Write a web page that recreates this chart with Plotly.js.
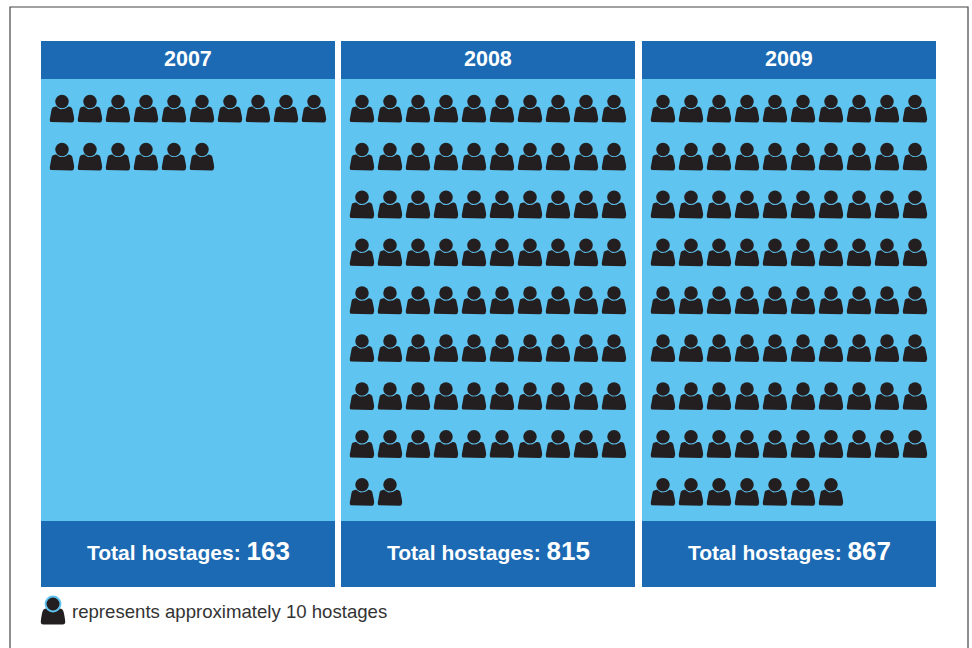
<!DOCTYPE html>
<html><head><meta charset="utf-8">
<script src="https://cdn.plot.ly/plotly-3.0.0.min.js"></script>
<style>html,body{margin:0;padding:0;background:#fff}#c{width:972px;height:648px}</style></head>
<body><div id="c"></div>
<script>
const years = ['2007','2008','2009'];
const totals = [163,815,867];
const iconCounts = [16,82,87];
const perRow = 10;
const legendText = 'represents approximately 10 hostages';
const totalLabel = 'Total hostages:';

const W=972,H=648;
const panelLeft=[41,341,642], panelW=294, panelTop=79, panelBottom=521, headTop=41, footBottom=587;
const pitchX=28, pitchY=47.9, firstX=21, firstY=22.5;
const dark='#231F20', blue='#1C6AB4', light='#60C4F0';

// body outline, px relative to head centre
function bodyOutline(){
  const p=[];
  p.push([-12.2,17.8],[-11.8,14.5],[-11,10],[-10.3,7.4],[-9.4,6],[-8,5.3],[-6.6,5.1]);
  for(let a=-50;a<=50;a+=10){const r=a*Math.PI/180;p.push([7.6*Math.sin(r),7.6*Math.cos(r)+0.2]);}
  p.push([6.6,5.1],[8,5.3],[9.4,6],[10.3,7.4],[11,10],[11.8,14.5],[12.2,17.8],[12.1,19.6],[11.4,20.6],[10,21.1],[-10,21.1],[-11.4,20.6],[-12.1,19.6],[-12.2,17.8]);
  return p;
}
const outline=bodyOutline();

const fx=x=>x/W, fy=y=>1-y/H;
const traces=[], shapes=[], annotations=[];
const layout={width:W,height:H,margin:{l:0,r:0,t:0,b:0,pad:0},paper_bgcolor:'#fff',plot_bgcolor:light,showlegend:false,hovermode:false};

years.forEach((yr,i)=>{
  const sx=i===0?'':String(i+1);
  const n=iconCounts[i];
  const hx=[],hy=[],bx=[],by=[];
  for(let k=0;k<n;k++){
    const c=k%perRow,r=Math.floor(k/perRow);
    hx.push(c);hy.push(r);
    outline.forEach(q=>{bx.push(c+q[0]/pitchX);by.push(r+q[1]/pitchY);});
    bx.push(null);by.push(null);
  }
  traces.push({type:'scatter',mode:'lines',x:bx,y:by,xaxis:'x'+sx,yaxis:'y'+sx,fill:'toself',fillcolor:dark,line:{width:0,color:dark},hoverinfo:'skip'});
  traces.push({type:'scatter',mode:'markers',x:hx,y:hy,xaxis:'x'+sx,yaxis:'y'+sx,marker:{symbol:'circle',size:13.5,color:dark,line:{width:0}},hoverinfo:'skip'});
  const L=panelLeft[i];
  layout['xaxis'+sx]={domain:[fx(L),fx(L+panelW)],range:[-firstX/pitchX,(panelW-firstX)/pitchX],visible:false,fixedrange:true,anchor:'y'+sx};
  layout['yaxis'+sx]={domain:[fy(panelBottom),fy(panelTop)],range:[(panelBottom-panelTop-firstY)/pitchY,-firstY/pitchY],visible:false,fixedrange:true,anchor:'x'+sx};
  shapes.push({type:'rect',xref:'paper',yref:'paper',x0:fx(L),x1:fx(L+panelW),y0:fy(panelTop),y1:fy(headTop),fillcolor:blue,line:{width:0}});
  shapes.push({type:'rect',xref:'paper',yref:'paper',x0:fx(L),x1:fx(L+panelW),y0:fy(footBottom),y1:fy(panelBottom),fillcolor:blue,line:{width:0}});
  annotations.push({xref:'paper',yref:'paper',x:fx(L+panelW/2-0.5),y:fy(58.5),xanchor:'center',yanchor:'middle',showarrow:false,text:'<b>'+yr+'</b>',font:{family:'Liberation Sans',size:21.5,color:'#fff'}});
  annotations.push({xref:'paper',yref:'paper',x:fx(L+panelW/2),y:fy(550.5),xanchor:'center',yanchor:'middle',showarrow:false,text:'<b>'+totalLabel+' <span style="font-size:26px">'+totals[i]+'</span></b>',font:{family:'Liberation Sans',size:21,color:'#fff'}});
});

// page frame
const framePts=[[10,H],[10,7],[968,7],[968,H]];
shapes.push({type:'path',xref:'paper',yref:'paper',path:framePts.map((p,k)=>(k?'L':'M')+fx(p[0])+','+fy(p[1])).join(' '),line:{color:'#444',width:1.2},fillcolor:'rgba(0,0,0,0)'});

// legend key
const kx=53,ky=604;
shapes.push({type:'path',xref:'paper',yref:'paper',path:outline.map((q,k)=>(k?'L':'M')+fx(kx+q[0])+','+fy(ky-0.5+q[1])).join(' ')+' Z',fillcolor:dark,line:{width:0}});
shapes.push({type:'circle',xref:'paper',yref:'paper',x0:fx(kx-8.4),x1:fx(kx+8.4),y0:fy(ky+8.4),y1:fy(ky-8.4),fillcolor:light,line:{width:0}});
shapes.push({type:'circle',xref:'paper',yref:'paper',x0:fx(kx-6.5),x1:fx(kx+6.5),y0:fy(ky+6.5),y1:fy(ky-6.5),fillcolor:dark,line:{width:0}});
annotations.push({xref:'paper',yref:'paper',x:fx(70),y:fy(611.5),xanchor:'left',yanchor:'middle',showarrow:false,text:legendText,font:{family:'Liberation Sans',size:18.6,color:'#333'}});

layout.shapes=shapes;layout.annotations=annotations;
Plotly.newPlot('c',traces,layout,{displayModeBar:false,staticPlot:true});
</script></body></html>
